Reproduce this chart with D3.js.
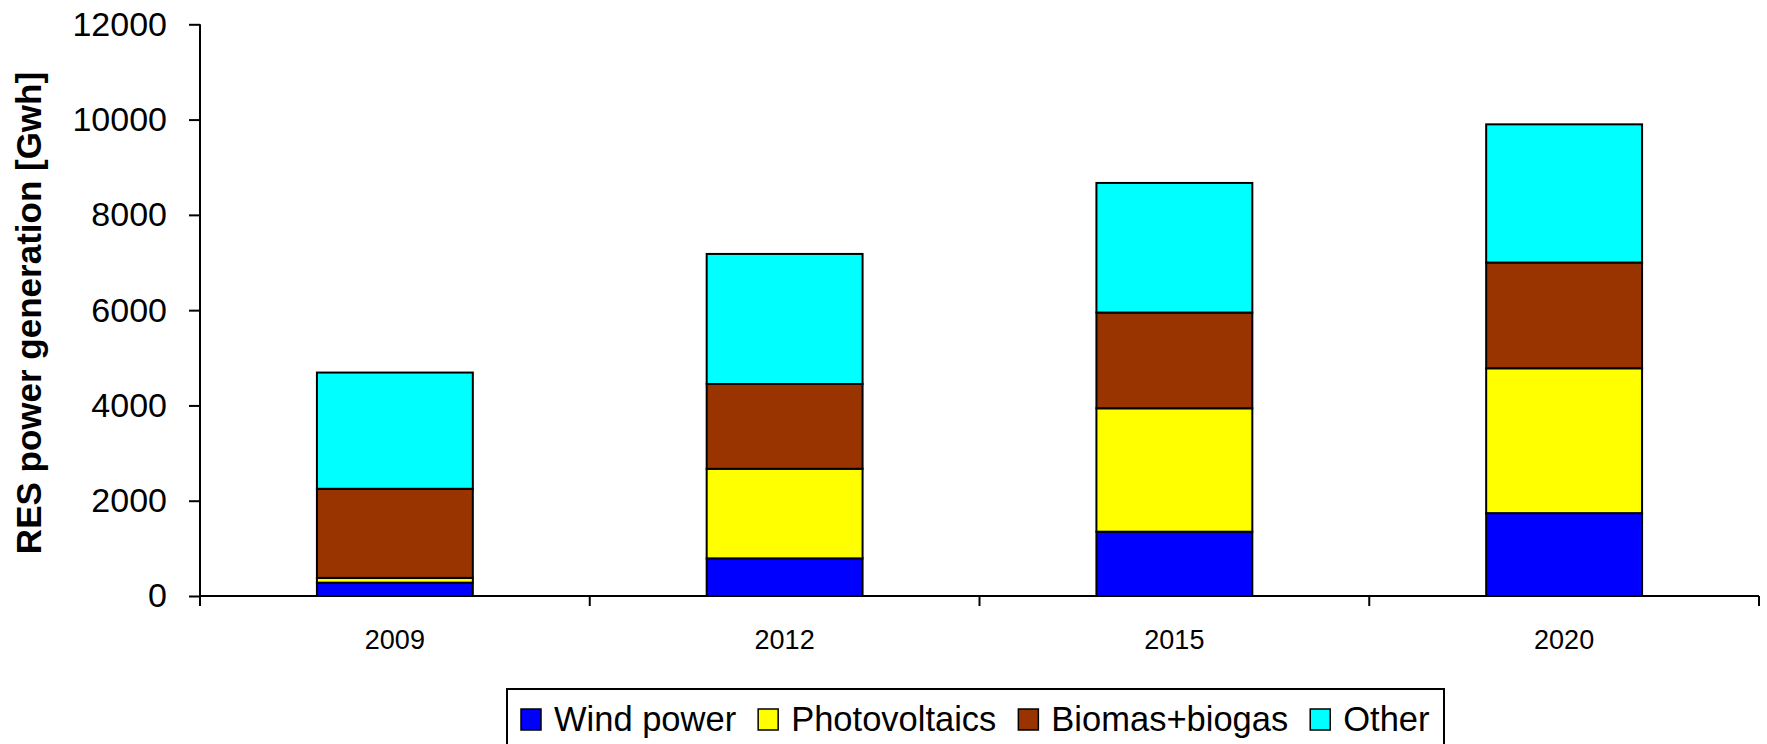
<!DOCTYPE html>
<html>
<head>
<meta charset="utf-8">
<script src="https://cdn.jsdelivr.net/npm/d3@7"></script>
<style>
  body { margin: 0; background: #fff; }
  text { font-family: Arial, "Liberation Sans", sans-serif; fill: #000; }
</style>
</head>
<body>
<svg id="chart" width="1767" height="744"></svg>
<script>
var years = ['2009', '2012', '2015', '2020'];
var seriesNames = ['Wind power', 'Photovoltaics', 'Biomas+biogas', 'Other'];
var seriesColors = ['#0000ff', '#ffff00', '#993300', '#00ffff'];
var wind = [280, 790, 1350, 1740];
var photovoltaics = [100, 1880, 2590, 3040];
var biomass = [1870, 1780, 2010, 2220];
var other = [2440, 2730, 2720, 2900];
var yTicks = [0, 2000, 4000, 6000, 8000, 10000, 12000];

var svg = d3.select('#chart');
var plotLeft = 200, plotRight = 1759, plotTop = 24.3, plotBottom = 596;

var rows = years.map(function(y, i) {
  return { year: y, 'Wind power': wind[i], 'Photovoltaics': photovoltaics[i], 'Biomas+biogas': biomass[i], 'Other': other[i] };
});
var stacked = d3.stack().keys(seriesNames)(rows);

var x = d3.scaleBand().domain(years).range([plotLeft, plotRight]).padding(0);
var y = d3.scaleLinear().domain([0, 12000]).range([plotBottom, plotTop]);
var barW = x.bandwidth() * 0.4;

// bars
svg.append('g').selectAll('g').data(stacked).enter().append('g')
  .attr('fill', function(d, i) { return seriesColors[i]; })
  .selectAll('rect').data(function(d) { return d; }).enter().append('rect')
  .attr('x', function(d) { return x(d.data.year) + (x.bandwidth() - barW) / 2; })
  .attr('y', function(d) { return y(d[1]); })
  .attr('width', barW)
  .attr('height', function(d) { return y(d[0]) - y(d[1]); })
  .attr('stroke', '#000').attr('stroke-width', 2);

// y axis
var yAxis = svg.append('g').attr('transform', 'translate(' + plotLeft + ',0)')
  .call(d3.axisLeft(y).tickValues(yTicks).tickSize(11).tickPadding(22).tickFormat(d3.format('d')));
yAxis.select('.domain').attr('d', 'M0,' + y(12000) + 'V' + (plotBottom + 10)).attr('stroke', '#000').attr('stroke-width', 2);
yAxis.selectAll('.tick line').attr('stroke', '#000').attr('stroke-width', 2);
yAxis.selectAll('.tick text').style('font-size', '34px').style('font-family', 'Arial, "Liberation Sans", sans-serif');

// x axis
var xg = svg.append('g');
xg.append('line').attr('x1', plotLeft).attr('x2', plotRight).attr('y1', plotBottom).attr('y2', plotBottom)
  .attr('stroke', '#000').attr('stroke-width', 2);
var bounds = years.map(function(d) { return x(d); }).concat([x(years[years.length - 1]) + x.bandwidth()]);
xg.selectAll('line.tk').data(bounds).enter().append('line').attr('class', 'tk')
  .attr('x1', function(d) { return d; }).attr('x2', function(d) { return d; })
  .attr('y1', plotBottom).attr('y2', plotBottom + 10).attr('stroke', '#000').attr('stroke-width', 2);
xg.selectAll('text').data(years).enter().append('text')
  .attr('x', function(d) { return x(d) + x.bandwidth() / 2; })
  .attr('y', 649).attr('text-anchor', 'middle').style('font-size', '27px')
  .text(function(d) { return d; });

// y title
svg.append('text').attr('transform', 'translate(41,313) rotate(-90)')
  .attr('text-anchor', 'middle').style('font-size', '35px').style('font-weight', 'bold')
  .text('RES power generation [Gwh]');

// legend
var legend = svg.append('g');
legend.append('rect').attr('x', 507).attr('y', 689).attr('width', 937).attr('height', 80)
  .attr('fill', '#fff').attr('stroke', '#000').attr('stroke-width', 2);
var lx = 521;
seriesNames.forEach(function(name, i) {
  legend.append('rect').attr('x', lx).attr('y', 709).attr('width', 20).attr('height', 21)
    .attr('fill', seriesColors[i]).attr('stroke', '#000').attr('stroke-width', 1.5);
  var t = legend.append('text').attr('x', lx + 33).attr('y', 731).style('font-size', '34.5px').text(name);
  lx = lx + 33 + t.node().getComputedTextLength() + 22;
});
</script>
</body>
</html>
